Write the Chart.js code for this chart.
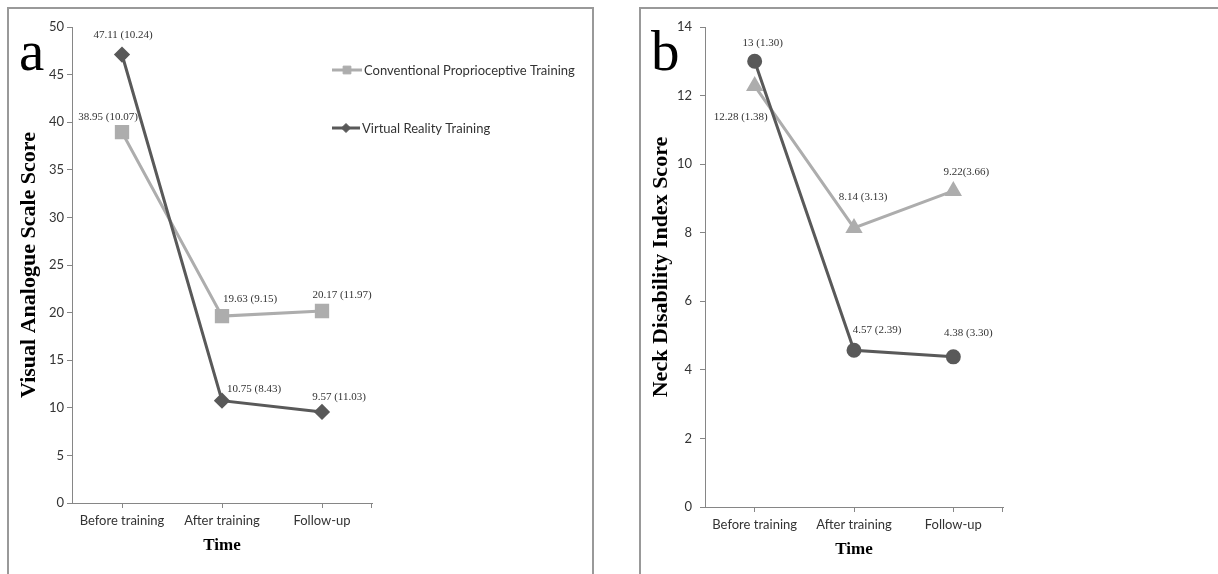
<!DOCTYPE html>
<html>
<head>
<meta charset="utf-8">
<script src="https://cdn.jsdelivr.net/npm/chart.js@4.4.1/dist/chart.umd.min.js"></script>
<style>
  html, body { margin: 0; padding: 0; background: #fff; }
  body { width: 1218px; height: 574px; position: relative; overflow: hidden; }
  .frame { position: absolute; border: 2px solid #999; box-sizing: border-box; }
  #frameA { left: 7px; top: 7px; width: 587px; height: 620px; }
  #frameB { left: 639px; top: 7px; width: 640px; height: 620px; }
  canvas { position: absolute; top: 0; }
  #chartA { left: 0; }
  #chartB { left: 620px; }
</style>
</head>
<body>
<div class="frame" id="frameA"></div>
<div class="frame" id="frameB"></div>
<canvas id="chartA" width="600" height="574"></canvas>
<canvas id="chartB" width="598" height="574"></canvas>
<script>
'use strict';

// categories and series names
const timePoints = ['Before training', 'After training', 'Follow-up'];
const seriesNames = ['Conventional Proprioceptive Training', 'Virtual Reality Training'];

// panel a: Visual Analogue Scale, mean and label text "mean (SD)"
const vasConventional = [38.95, 19.63, 20.17];
const vasVirtual = [47.11, 10.75, 9.57];
const vasConventionalLabels = ['38.95 (10.07)', '19.63 (9.15)', '20.17 (11.97)'];
const vasVirtualLabels = ['47.11 (10.24)', '10.75 (8.43)', '9.57 (11.03)'];
const vasAxis = [0, 50, 5];   // min, max, step

// panel b: Neck Disability Index
const ndiConventional = [12.28, 8.14, 9.22];
const ndiVirtual = [13, 4.57, 4.38];
const ndiConventionalLabels = ['12.28 (1.38)', '8.14 (3.13)', '9.22(3.66)'];
const ndiVirtualLabels = ['13 (1.30)', '4.57 (2.39)', '4.38 (3.30)'];
const ndiAxis = [0, 14, 2];

// where each value label sits relative to its point (px)
const vasConvOffsets = [[-14, -15], [28, -17], [20, -16]];
const vasVirtOffsets = [[1, -19], [32, -12], [17, -15]];
const ndiConvOffsets = [[-14, 31], [9, -31], [13, -19]];
const ndiVirtOffsets = [[8, -18], [23, -20], [15, -24]];

const LIGHT = '#adadad';
const DARK = '#595959';
const AXIS = '#868686';
const SANS = 'Lato, "Open Sans", sans-serif';
const SERIF = '"Liberation Serif", "Times New Roman", serif';

const panelDecor = {
  id: 'panelDecor',
  afterDatasetsDraw(chart, args, opts) {
    const ctx = chart.ctx;
    const area = chart.chartArea;
    ctx.save();
    // excel puts a tick at the right end of the category axis too
    ctx.strokeStyle = AXIS;
    ctx.lineWidth = 1;
    ctx.beginPath();
    ctx.moveTo(Math.round(area.right) - 0.5, area.bottom);
    ctx.lineTo(Math.round(area.right) - 0.5, area.bottom + 5);
    ctx.stroke();
    // "mean (SD)" labels next to each point
    ctx.font = '11px ' + SERIF;
    ctx.fillStyle = '#333';
    ctx.textAlign = 'center';
    ctx.textBaseline = 'middle';
    chart.data.datasets.forEach((ds, i) => {
      chart.getDatasetMeta(i).data.forEach((pt, j) => {
        const off = ds.labelOffsets[j];
        ctx.fillText(ds.valueLabels[j], pt.x + off[0], pt.y + off[1]);
      });
    });
    // panel letter
    ctx.font = '57px ' + SERIF;
    ctx.fillStyle = '#000';
    ctx.textAlign = 'left';
    ctx.textBaseline = 'alphabetic';
    ctx.fillText(opts.letter, opts.letterX, opts.letterY);
    // excel-style legend: line with marker in the middle
    (opts.legend || []).forEach((item) => {
      const ds = chart.data.datasets[item.index];
      ctx.strokeStyle = ds.borderColor;
      ctx.fillStyle = ds.borderColor;
      ctx.lineWidth = 3;
      ctx.beginPath();
      ctx.moveTo(item.x0, item.y);
      ctx.lineTo(item.x1, item.y);
      ctx.stroke();
      ctx.lineWidth = 1;
      Chart.helpers.drawPoint(ctx, {
        pointStyle: ds.pointStyle, radius: item.r, borderWidth: 1, rotation: 0
      }, (item.x0 + item.x1) / 2, item.y);
      ctx.font = '13px ' + SANS;
      ctx.fillStyle = '#333';
      ctx.textBaseline = 'middle';
      ctx.fillText(ds.label, item.x1 + 2, item.y + 1);
    });
    ctx.restore();
  }
};

function makeChart(id, p) {
  const ctx = document.getElementById(id);
  return new Chart(ctx, {
    type: 'line',
    data: {
      labels: timePoints,
      datasets: [{
        label: seriesNames[0],
        data: p.light,
        valueLabels: p.lightLabels,
        labelOffsets: p.lightOffsets,
        borderColor: LIGHT,
        backgroundColor: LIGHT,
        pointBackgroundColor: LIGHT,
        pointBorderColor: LIGHT,
        borderWidth: 3,
        pointStyle: p.lightStyle,
        pointRadius: p.lightRadius,
        order: 2
      }, {
        label: seriesNames[1],
        data: p.dark,
        valueLabels: p.darkLabels,
        labelOffsets: p.darkOffsets,
        borderColor: DARK,
        backgroundColor: DARK,
        pointBackgroundColor: DARK,
        pointBorderColor: DARK,
        borderWidth: 3,
        pointStyle: p.darkStyle,
        pointRadius: p.darkRadius,
        order: 1
      }]
    },
    options: {
      responsive: false,
      animation: false,
      devicePixelRatio: 1,
      layout: { padding: { left: 0, right: p.padRight, top: 27, bottom: 0 } },
      plugins: {
        legend: { display: false },
        tooltip: { enabled: false },
        panelDecor: p.decor
      },
      scales: {
        x: {
          offset: true,
          grid: { drawOnChartArea: false, drawTicks: true, tickLength: 5, offset: false, color: AXIS },
          border: { color: AXIS, width: 1 },
          ticks: { font: { family: SANS, size: 13 }, color: '#333', padding: 5, maxRotation: 0, autoSkip: false },
          title: {
            display: true, text: 'Time', color: '#000',
            font: { family: SERIF, size: 17, weight: 'bold' },
            padding: { top: 0, bottom: p.timePad }
          },
          afterFit(s) { s.height = p.xHeight; }
        },
        y: {
          min: p.axis[0], max: p.axis[1],
          grid: { drawOnChartArea: false, drawTicks: true, tickLength: 5, color: AXIS },
          border: { color: AXIS, width: 1 },
          ticks: { stepSize: p.axis[2], font: { family: SANS, size: 13 }, color: '#333', padding: p.yTickPad },
          title: {
            display: true, text: p.yTitle, color: '#000',
            font: { family: SERIF, size: 22, weight: 'bold' },
            padding: { top: p.yTitlePad, bottom: 0 }
          },
          afterFit(s) { s.width = p.yWidth; }
        }
      }
    },
    plugins: [panelDecor]
  });
}

makeChart('chartA', {
  light: vasConventional, lightLabels: vasConventionalLabels, lightOffsets: vasConvOffsets,
  dark: vasVirtual, darkLabels: vasVirtualLabels, darkOffsets: vasVirtOffsets,
  lightStyle: 'rect', lightRadius: 8, darkStyle: 'rectRot', darkRadius: 6,
  axis: vasAxis, yTitle: 'Visual Analogue Scale Score',
  padRight: 228, yWidth: 72, yTitlePad: 16, yTickPad: 3, xHeight: 71, timePad: 18,
  decor: {
    letter: 'a', letterX: 19, letterY: 70,
    legend: [
      { index: 0, x0: 332, x1: 362, y: 70, r: 5.5 },
      { index: 1, x0: 332, x1: 360, y: 128, r: 4.5 }
    ]
  }
});

makeChart('chartB', {
  light: ndiConventional, lightLabels: ndiConventionalLabels, lightOffsets: ndiConvOffsets,
  dark: ndiVirtual, darkLabels: ndiVirtualLabels, darkOffsets: ndiVirtOffsets,
  lightStyle: 'triangle', lightRadius: 7, darkStyle: 'circle', darkRadius: 6,
  axis: ndiAxis, yTitle: 'Neck Disability Index Score',
  padRight: 215, yWidth: 85, yTitlePad: 28, yTickPad: 8, xHeight: 67, timePad: 14,
  decor: { letter: 'b', letterX: 31, letterY: 70 }
});
</script>
</body>
</html>
